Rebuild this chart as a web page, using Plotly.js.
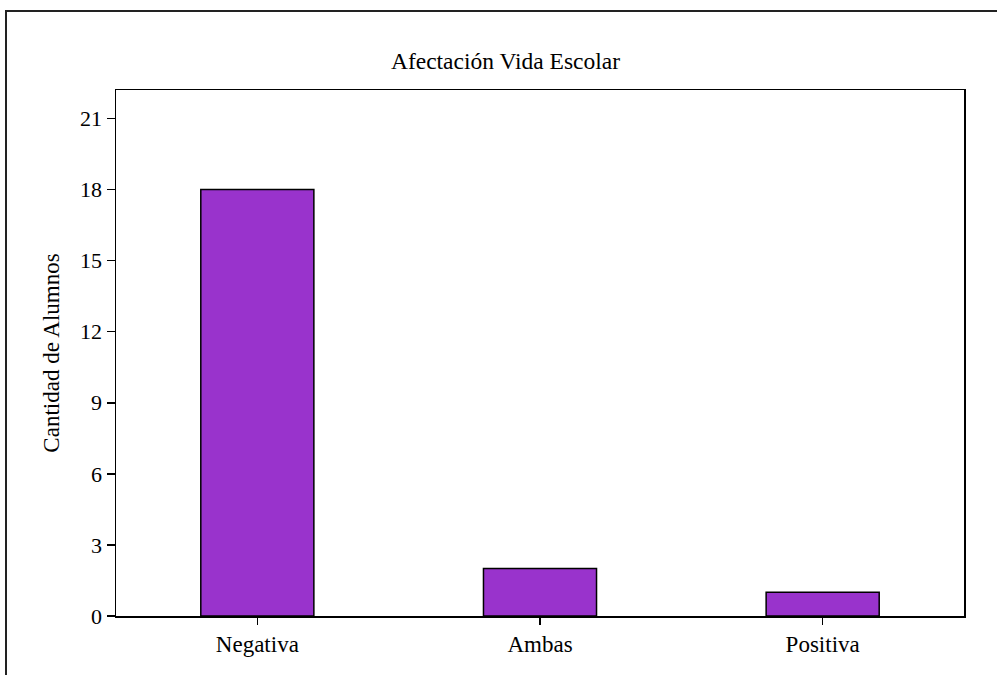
<!DOCTYPE html>
<html>
<head>
<meta charset="utf-8">
<script src="https://cdn.plot.ly/plotly-3.0.1.min.js"></script>
<style>html,body{margin:0;padding:0;background:#fff;}#chart{width:997px;height:675px;}</style>
</head>
<body>
<div id="chart"></div>
<script>
const categories = ["Negativa", "Ambas", "Positiva"];
const alumnos = [18, 2, 1];
const yTicks = [0, 3, 6, 9, 12, 15, 18, 21];
const chartTitle = "Afectación Vida Escolar";
const yTitle = "Cantidad de Alumnos";

const FONT = "Liberation Serif, Times New Roman, serif";
const W = 997, H = 675;
const m = {l: 116, r: 33, t: 90, b: 59};
const pw = W - m.l - m.r, ph = H - m.t - m.b;
const px = v => (v - m.l) / pw;
const py = v => (H - m.b - v) / ph;

const trace = {
  type: "bar",
  x: categories,
  y: alumnos,
  width: 0.4,
  marker: {color: "#9933CC", line: {color: "#000000", width: 1.5}},
  hoverinfo: "x+y"
};

const layout = {
  width: W, height: H,
  margin: m,
  paper_bgcolor: "#ffffff",
  plot_bgcolor: "#ffffff",
  font: {family: FONT, size: 23, color: "#000"},
  showlegend: false,
  title: {text: chartTitle, font: {family: FONT, size: 23.5, color: "#000"},
          xref: "container", x: 0.507, xanchor: "center", yref: "container", y: 1 - 61/H, yanchor: "middle"},
  xaxis: {
    type: "category",
    range: [-0.5, 2.5],
    showgrid: false, zeroline: false,
    showline: true, linecolor: "#000", linewidth: 1.5, mirror: true,
    ticks: "outside", ticklen: 7, tickwidth: 1.5, tickcolor: "#000",
    tickfont: {family: FONT, size: 23, color: "#000"}
  },
  yaxis: {
    range: [0, 22.2],
    tickvals: yTicks,
    ticktext: yTicks.map(String),
    showgrid: false, zeroline: false,
    showline: true, linecolor: "#000", linewidth: 1.5, mirror: true,
    ticks: "outside", ticklen: 8, tickwidth: 1.5, tickcolor: "#000",
    tickfont: {family: FONT, size: 22, color: "#000"},
    title: {text: yTitle, font: {family: FONT, size: 23, color: "#000"}, standoff: 14}
  },
  shapes: [{
    type: "rect", xref: "paper", yref: "paper",
    x0: px(6), x1: px(1005), y0: py(685), y1: py(11),
    line: {color: "#222", width: 2}, fillcolor: "rgba(0,0,0,0)", layer: "above"
  }]
};

Plotly.newPlot("chart", [trace], layout, {displayModeBar: false, staticPlot: true});
</script>
</body>
</html>
